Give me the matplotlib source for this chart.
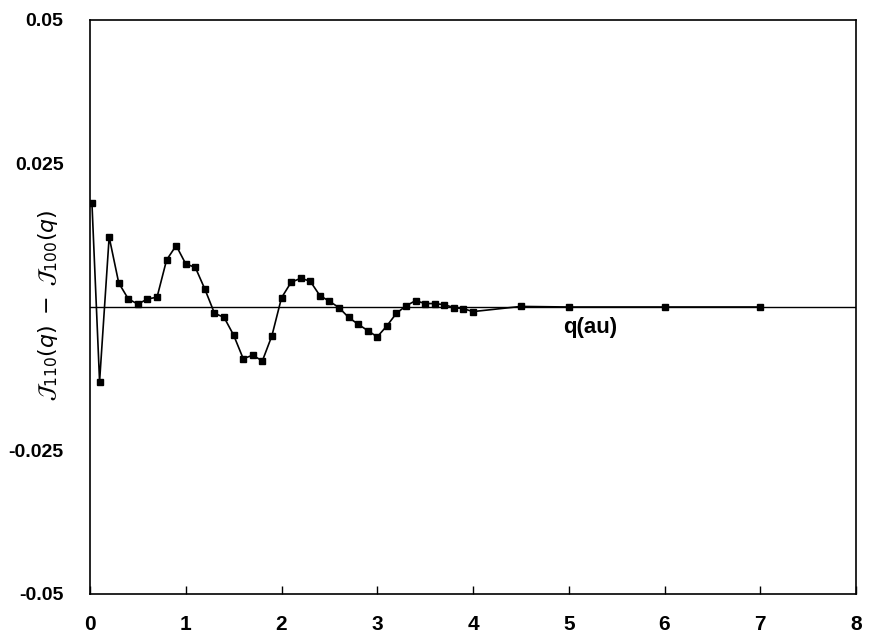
import matplotlib
matplotlib.use("Agg")
import matplotlib.pyplot as plt

q = [0.02, 0.1, 0.2, 0.3, 0.4, 0.5, 0.6, 0.7, 0.8, 0.9, 1.0, 1.1, 1.2, 1.3, 1.4,
     1.5, 1.6, 1.7, 1.8, 1.9, 2.0, 2.1, 2.2, 2.3, 2.4, 2.5, 2.6, 2.7, 2.8, 2.9,
     3.0, 3.1, 3.2, 3.3, 3.4, 3.5, 3.6, 3.7, 3.8, 3.9, 4.0, 4.5, 5.0, 6.0, 7.0]
dJ = [0.0182, -0.0130, 0.0122, 0.0042, 0.0014, 0.0005, 0.0014, 0.0017, 0.0082, 0.0107,
      0.0075, 0.0069, 0.0031, -0.0011, -0.0018, -0.0049, -0.0090, -0.0084, -0.0094, -0.0050,
      0.0016, 0.0043, 0.0050, 0.0045, 0.0020, 0.0010, -0.0001, -0.0018, -0.0030, -0.0041,
      -0.0052, -0.0033, -0.0011, 0.0002, 0.0011, 0.0006, 0.0006, 0.0004, -0.0001, -0.0003,
      -0.0008, 0.0001, 0.0, 0.0, 0.0]

xticks = [0, 1, 2, 3, 4, 5, 6, 7, 8]
yticks = [-0.05, -0.025, 0.025, 0.05]
ytick_labels = ["-0.05", "-0.025", "0.025", "0.05"]

fig = plt.figure(figsize=(8.69, 6.38), dpi=100)
ax = fig.add_axes([90/869, 1-594/638, (856-90)/869, (594-20)/638])

ax.axhline(0, color="black", lw=1.0, zorder=1)
ax.plot(q, dJ, color="black", lw=1.2, marker="s", markersize=4, zorder=2)

ax.set_xlim(0, 8)
ax.set_ylim(-0.05, 0.05)
ax.set_xticks(xticks)
ax.set_yticks(yticks)
ax.set_yticklabels(ytick_labels)

for s in ax.spines.values():
    s.set_linewidth(1.2)

tick_font = ["Liberation Sans Narrow", "Liberation Sans", "DejaVu Sans"]
ax.tick_params(axis="x", direction="in", length=6, width=1, pad=15, labelsize=15)
ax.tick_params(axis="y", length=0, pad=19, labelsize=14)
for lab in ax.get_xticklabels():
    lab.set_fontfamily(tick_font)
    lab.set_fontweight("bold")
for lab in ax.get_yticklabels():
    lab.set_fontfamily(["Liberation Sans", "DejaVu Sans"])
    lab.set_fontweight("bold")

ax.text(5.22, -0.0036, "q(au)", fontsize=16, fontweight="bold",
        family=["Liberation Sans", "DejaVu Sans"], ha="center", va="center")

fig.text(48/869, 1-305/638, r"$\mathcal{J}_{110}(q)\;-\;\mathcal{J}_{100}(q)$",
         rotation=90, ha="center", va="center", fontsize=16)

fig.savefig("out.png", dpi=100)
